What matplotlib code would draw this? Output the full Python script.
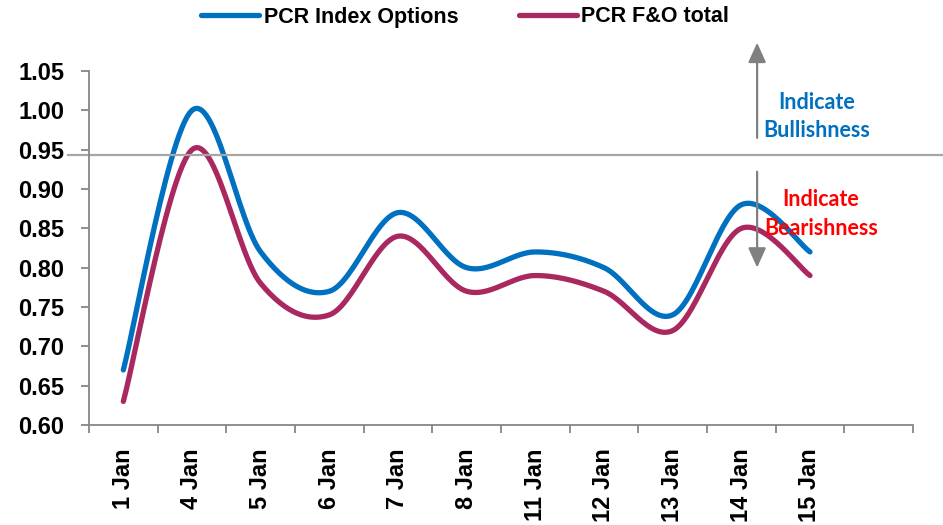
import numpy as np
import matplotlib.pyplot as plt

dates = ["1 Jan", "4 Jan", "5 Jan", "6 Jan", "7 Jan", "8 Jan", "11 Jan",
         "12 Jan", "13 Jan", "14 Jan", "15 Jan"]
pcr_index = [0.67, 1.00, 0.82, 0.77, 0.87, 0.80, 0.82, 0.80, 0.74, 0.88, 0.82]
pcr_fo = [0.63, 0.95, 0.78, 0.74, 0.84, 0.77, 0.79, 0.77, 0.72, 0.85, 0.79]
threshold = 0.943


def smooth(x, y, steps=30):
    # excel style smoothed line: cubic bezier through each point
    x = np.asarray(x, float)
    y = np.asarray(y, float)
    px = np.concatenate([[x[0]], x, [x[-1]]])
    py = np.concatenate([[y[0]], y, [y[-1]]])
    t = np.linspace(0, 1, steps)
    xs, ys = [], []
    for i in range(1, len(px) - 2):
        p0 = np.array([px[i], py[i]])
        p3 = np.array([px[i + 1], py[i + 1]])
        c1 = p0 + (p3 - np.array([px[i - 1], py[i - 1]])) / 6
        c2 = p3 - (np.array([px[i + 2], py[i + 2]]) - p0) / 6
        pts = (np.outer((1 - t) ** 3, p0) + np.outer(3 * (1 - t) ** 2 * t, c1)
               + np.outer(3 * (1 - t) * t ** 2, c2) + np.outer(t ** 3, p3))
        xs.append(pts[:, 0])
        ys.append(pts[:, 1])
    return np.concatenate(xs), np.concatenate(ys)


plt.rcParams["font.family"] = ["Liberation Sans", "DejaVu Sans"]

fig = plt.figure(figsize=(9.43, 5.25), dpi=100)
ax = fig.add_axes([89 / 943, 1 - 425 / 525, 824 / 943, 354 / 525])

xpos = np.arange(len(dates))
sx, sy = smooth(xpos, pcr_index)
ax.plot(sx, sy, color="#0070C0", linewidth=3.8, solid_capstyle="round", label="PCR Index Options")
sx, sy = smooth(xpos, pcr_fo)
ax.plot(sx, sy, color="#A8285F", linewidth=3.8, solid_capstyle="round", label="PCR F&O total")

ax.set_xlim(-0.5, 11.5)
ax.set_ylim(0.6, 1.05)
yt = np.arange(0.60, 1.051, 0.05)
ax.set_yticks(yt)
ax.set_yticklabels(["%.2f" % v for v in yt], fontsize=17, fontweight="bold")
ax.set_xticks(xpos)
ax.set_xticklabels(dates, rotation=90, fontsize=17, fontweight="bold")
ax.set_xticks(np.arange(-0.5, 11.6, 1), minor=True)
ax.tick_params(axis="x", which="major", length=0, pad=17)
ax.tick_params(axis="x", which="minor", length=6, color="#868686", width=1.3)
ax.tick_params(axis="y", length=6, color="#868686", width=1.3, pad=12)

for s in ["top", "right"]:
    ax.spines[s].set_visible(False)
for s in ["left", "bottom"]:
    ax.spines[s].set_color("#868686")
    ax.spines[s].set_linewidth(1.3)

# threshold line across the chart
ax.plot([-0.025, 1.04], [threshold, threshold], color="#A6A6A6", linewidth=1.6,
        transform=ax.get_yaxis_transform(), clip_on=False)

# arrows
arrow = dict(arrowstyle="-|>,head_length=0.6,head_width=0.27", color="#808080", lw=1.6,
             mutation_scale=20, shrinkA=0, shrinkB=0)
ax.annotate("", xy=(9.23, 1.086), xytext=(9.23, 0.965), arrowprops=arrow,
            annotation_clip=False)
ax.annotate("", xy=(9.23, 0.80), xytext=(9.23, 0.922), arrowprops=arrow,
            annotation_clip=False)

ax.text(10.1, 0.992, "Indicate\nBullishness", color="#0070C0", fontsize=15.5,
        fontweight="bold", family="Lato", ha="center", va="center", linespacing=1.45)
ax.text(10.16, 0.868, "Indicate\nBearishness", color="#FF0000", fontsize=15.5,
        fontweight="bold", family="Lato", ha="center", va="center", linespacing=1.45)

ax.legend(loc="center", bbox_to_anchor=(465 / 943, 1 - 17 / 525), bbox_transform=fig.transFigure,
          ncol=2, frameon=False, prop=dict(weight="bold", size=15.5),
          handlelength=2.7, handletextpad=0.2, columnspacing=2.8, borderaxespad=0)

fig.savefig("out.png", dpi=100)
